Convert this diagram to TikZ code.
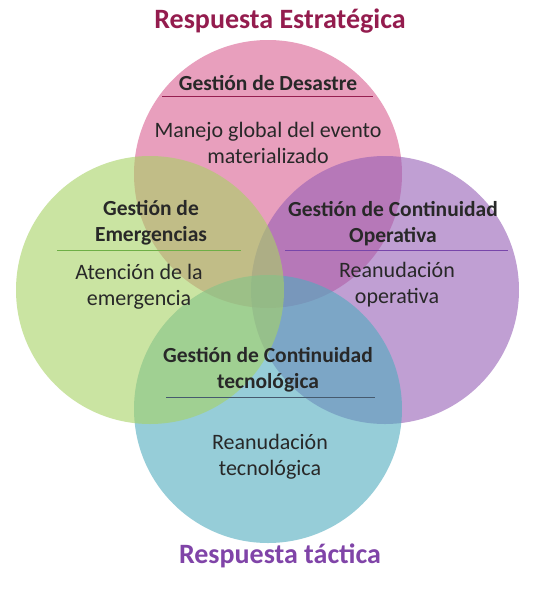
\documentclass[tikz,border=0pt]{standalone}
\usepackage{fontspec}
\setmainfont{Carlito}
\definecolor{cpink}{RGB}{218,95,145}
\definecolor{cgreen}{RGB}{168,210,100}
\definecolor{cpurple}{RGB}{150,95,182}
\definecolor{cteal}{RGB}{80,172,190}
\definecolor{ttitle}{RGB}{148,28,78}
\definecolor{ttact}{RGB}{128,68,168}
\definecolor{ttext}{RGB}{40,40,40}
\definecolor{lpink}{RGB}{150,30,80}
\definecolor{lgreen}{RGB}{110,175,70}
\definecolor{lpurple}{RGB}{120,70,170}
\definecolor{lteal}{RGB}{70,90,110}
\begin{document}
\begin{tikzpicture}[x=1pt,y=-1pt,
  venn/.style={circle,minimum size=268pt,inner sep=0pt,fill opacity=0.6,text opacity=1},
  head/.style={font=\fontsize{21.5}{26}\selectfont\bfseries,text=ttext,align=center},
  body/.style={font=\fontsize{22}{26}\selectfont,text=ttext,align=center},
  ttl/.style={font=\fontsize{28}{32}\selectfont\bfseries},
  sep/.style={line width=0.8pt}]
\useasboundingbox (0,0) rectangle (546,590);
\fill[white] (0,0) rectangle (546,590);
\node[venn,fill=cpink] (top) at (268,174) {};
\node[venn,fill=cpurple] (right) at (385,290) {};
\node[venn,fill=cteal] (bottom) at (268,409) {};
\node[venn,fill=cgreen] (left) at (150,290) {};
\node[ttl,text=ttitle] (t1) at (280,21) {Respuesta Estratégica};
\node[ttl,text=ttact] (t2) at (280,556) {Respuesta táctica};
\node[head] (h1) at (268,83) {Gestión de Desastre};
\coordinate (a1) at (162,96); \coordinate (b1) at (373,96);
\draw[sep,lpink] (a1) -- (b1);
\node[body] (b1t) at (268,143) {Manejo global del evento\\materializado};
\node[head] (h2) at (151,223) {Gestión de\\Emergencias};
\coordinate (a2) at (57,250); \coordinate (b2) at (241,250);
\draw[sep,lgreen] (a2) -- (b2);
\node[body] (b2t) at (139,287) {Atención de la\\emergencia};
\node[head] (h3) at (393,224) {Gestión de Continuidad\\Operativa};
\coordinate (a3) at (285,250); \coordinate (b3) at (508,250);
\draw[sep,lpurple] (a3) -- (b3);
\node[body] (b3t) at (397,285) {Reanudación\\operativa};
\node[head] (h4) at (268,370) {Gestión de Continuidad\\tecnológica};
\coordinate (a4) at (166,397); \coordinate (b4) at (375,397);
\draw[sep,lteal] (a4) -- (b4);
\node[body] (b4t) at (270,457) {Reanudación\\tecnológica};
\end{tikzpicture}
\end{document}
